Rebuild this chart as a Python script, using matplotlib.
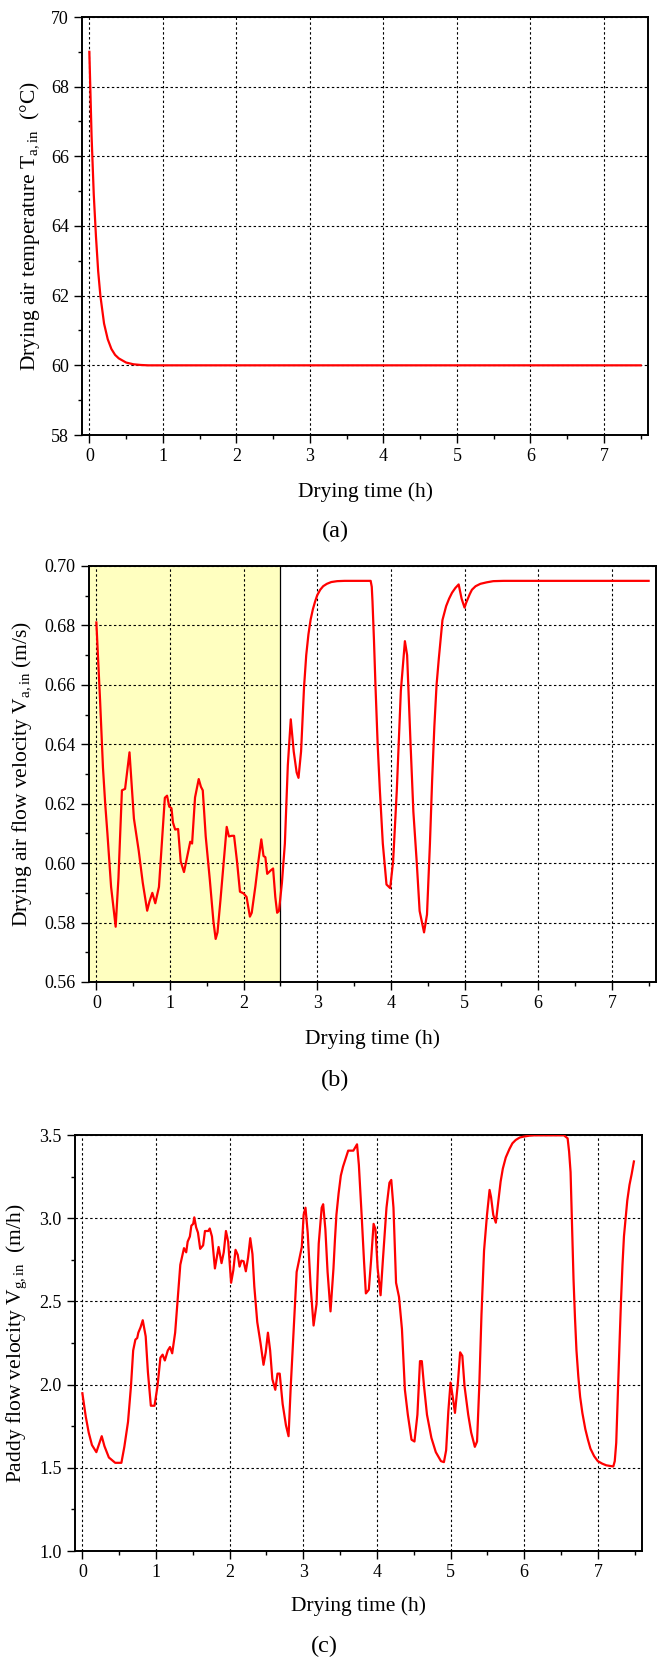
import matplotlib
matplotlib.use("Agg")
import matplotlib.pyplot as plt
from matplotlib.ticker import MultipleLocator, FormatStrFormatter

plt.rcParams["font.family"] = ["Liberation Serif", "DejaVu Serif"]
plt.rcParams["mathtext.fontset"] = "custom"
plt.rcParams["mathtext.rm"] = "Liberation Serif"
plt.rcParams["mathtext.it"] = "Liberation Serif:italic"

# ---- (a) drying air temperature ----
temp_time = [0.0, 0.03, 0.06, 0.09, 0.12, 0.15, 0.2, 0.25, 0.3, 0.35, 0.4,
             0.5, 0.6, 0.7, 0.8, 1.0, 2.0, 3.0, 4.0, 5.0, 6.0, 7.0, 7.5]
temp_vals = [69.0, 66.6, 64.9, 63.7, 62.7, 62.0, 61.2, 60.75, 60.47, 60.3, 60.2,
             60.08, 60.03, 60.01, 60.0, 60.0, 60.0, 60.0, 60.0, 60.0, 60.0, 60.0, 60.0]

# ---- (b) drying air flow velocity ----
air_time = [0.0, 0.05, 0.09, 0.12, 0.15, 0.2, 0.262, 0.3, 0.347, 0.39, 0.45, 0.51,
            0.575, 0.63, 0.69, 0.72, 0.76, 0.80, 0.85, 0.93, 0.96, 0.99, 1.02, 1.04,
            1.07, 1.11, 1.145, 1.19, 1.23, 1.275, 1.30, 1.34, 1.39, 1.42, 1.445,
            1.485, 1.54, 1.59, 1.62, 1.645, 1.685, 1.73, 1.77, 1.80, 1.84, 1.87,
            1.91, 1.95, 2.00, 2.04, 2.085, 2.11, 2.16, 2.20, 2.24, 2.27, 2.295,
            2.32, 2.37, 2.40, 2.43, 2.455, 2.48, 2.52, 2.56, 2.60, 2.64, 2.68,
            2.72, 2.745, 2.78, 2.80, 2.82, 2.85, 2.88, 2.91, 2.94, 2.97, 3.00,
            3.04, 3.08, 3.13, 3.19, 3.27, 3.37, 3.725, 3.74, 3.75, 3.77, 3.79,
            3.82, 3.85, 3.89, 3.94, 3.99, 4.03, 4.08, 4.135, 4.19, 4.22,
            4.265, 4.305, 4.35, 4.39, 4.45, 4.49, 4.53, 4.56, 4.59, 4.62, 4.65,
            4.70, 4.75, 4.79, 4.83, 4.875, 4.92, 4.96, 5.0, 5.02, 5.045, 5.07,
            5.10, 5.15, 5.215, 5.30, 5.39, 5.53, 6.5, 7.5]
air_vals = [0.681, 0.655, 0.632, 0.620, 0.610, 0.592, 0.5786, 0.595, 0.6245,
            0.6250, 0.6373, 0.615, 0.6042, 0.5934, 0.584, 0.587, 0.590, 0.5865,
            0.592, 0.622, 0.6227, 0.619, 0.6185, 0.6137, 0.6113, 0.6115, 0.6006,
            0.597, 0.6018, 0.6072, 0.6066, 0.6221, 0.6283, 0.6257, 0.6245, 0.609,
            0.5946, 0.5803, 0.5745, 0.5767, 0.5875, 0.6006, 0.6122, 0.609, 0.6092,
            0.6092, 0.6006, 0.5904, 0.5898, 0.5886, 0.582, 0.5833, 0.5923, 0.6006,
            0.608, 0.6024, 0.602, 0.5964, 0.5976, 0.5982, 0.5886, 0.5833, 0.5839,
            0.5934, 0.6066, 0.6329, 0.6484, 0.6376, 0.6305, 0.6287, 0.6376, 0.648,
            0.6591, 0.670, 0.677, 0.682, 0.6854, 0.688, 0.6902, 0.692, 0.6932,
            0.694, 0.6946, 0.6949, 0.695, 0.695, 0.693, 0.688, 0.675, 0.660,
            0.640, 0.6245, 0.6066, 0.5928, 0.5916, 0.6006, 0.6245, 0.658, 0.6747,
            0.670, 0.6412, 0.6173, 0.6006, 0.5839, 0.5767, 0.5827, 0.6066, 0.628,
            0.646, 0.660, 0.6687, 0.6818, 0.6865, 0.689, 0.691, 0.6926, 0.6938,
            0.689, 0.686, 0.6875, 0.689, 0.6905, 0.692, 0.6932, 0.694, 0.6945,
            0.6949, 0.695, 0.695, 0.695]

# ---- (c) paddy flow velocity ----
paddy_time = [0.0, 0.046, 0.086, 0.13, 0.19, 0.23, 0.263, 0.30, 0.36, 0.446, 0.53,
              0.57, 0.62, 0.66, 0.69, 0.72, 0.745, 0.76, 0.79, 0.82, 0.86, 0.89,
              0.93, 0.98, 1.02, 1.06, 1.09, 1.12, 1.16, 1.19, 1.22, 1.26, 1.29,
              1.33, 1.38, 1.41, 1.43, 1.46, 1.48, 1.505, 1.52, 1.545, 1.57, 1.60,
              1.64, 1.665, 1.71, 1.73, 1.76, 1.80, 1.85, 1.89, 1.92, 1.95, 1.98,
              2.02, 2.05, 2.08, 2.11, 2.135, 2.16, 2.19, 2.22, 2.25, 2.28, 2.31,
              2.335, 2.375, 2.42, 2.46, 2.49, 2.52, 2.55, 2.58, 2.62, 2.65, 2.68,
              2.72, 2.765, 2.80, 2.83, 2.88, 2.91, 2.95, 2.98, 3.005, 3.03, 3.06,
              3.10, 3.14, 3.18, 3.21, 3.25, 3.27, 3.30, 3.33, 3.37, 3.41, 3.43,
              3.45, 3.48, 3.51, 3.54, 3.57, 3.61, 3.68, 3.73, 3.755, 3.795, 3.825,
              3.85, 3.89, 3.92, 3.955, 3.98, 4.01, 4.05, 4.08, 4.13, 4.17, 4.195,
              4.225, 4.26, 4.30, 4.34, 4.38, 4.42, 4.47, 4.51, 4.55, 4.585, 4.61,
              4.64, 4.68, 4.74, 4.80, 4.87, 4.91, 4.94, 4.97, 5.00, 5.03, 5.06,
              5.10, 5.13, 5.16, 5.19, 5.24, 5.28, 5.33, 5.36, 5.39, 5.42, 5.455,
              5.495, 5.53, 5.55, 5.58, 5.615, 5.655, 5.68, 5.71, 5.75, 5.80, 5.84,
              5.885, 5.94, 6.0, 6.07, 6.14, 6.54, 6.59, 6.61, 6.63, 6.65, 6.67,
              6.69, 6.71, 6.735, 6.76, 6.79, 6.83, 6.865, 6.90, 6.95, 7.0, 7.06,
              7.115, 7.21, 7.23, 7.25, 7.275, 7.295, 7.315, 7.335, 7.355, 7.38,
              7.40, 7.43, 7.46, 7.49]
paddy_vals = [1.948, 1.808, 1.712, 1.637, 1.594, 1.647, 1.690, 1.630, 1.562, 1.530,
              1.530, 1.626, 1.776, 1.990, 2.205, 2.270, 2.280, 2.312, 2.344, 2.387,
              2.290, 2.076, 1.873, 1.873, 1.990, 2.162, 2.180, 2.145, 2.205, 2.226,
              2.188, 2.312, 2.484, 2.720, 2.820, 2.795, 2.859, 2.890, 2.955, 2.966,
              3.005, 2.945, 2.913, 2.816, 2.837, 2.923, 2.923, 2.938, 2.890, 2.698,
              2.827, 2.730, 2.795, 2.923, 2.859, 2.612, 2.687, 2.810, 2.780, 2.709,
              2.745, 2.741, 2.681, 2.762, 2.880, 2.784, 2.590, 2.376, 2.248, 2.119,
              2.194, 2.312, 2.205, 2.033, 1.969, 2.066, 2.066, 1.883, 1.755, 1.690,
              1.990, 2.420, 2.677, 2.762, 2.827, 3.020, 3.063, 2.913, 2.590, 2.355,
              2.484, 2.848, 3.063, 3.084, 2.934, 2.677, 2.440, 2.698, 2.870, 3.020,
              3.150, 3.256, 3.310, 3.352, 3.406, 3.406, 3.444, 3.320, 2.998, 2.741,
              2.548, 2.570, 2.741, 2.966, 2.934, 2.698, 2.537, 2.741, 3.063, 3.213,
              3.230, 3.063, 2.612, 2.527, 2.334, 1.969, 1.819, 1.669, 1.658, 1.819,
              2.141, 2.141, 1.990, 1.819, 1.680, 1.594, 1.540, 1.534, 1.605, 1.840,
              2.012, 1.926, 1.830, 2.012, 2.194, 2.173, 1.990, 1.819, 1.712, 1.626,
              1.658, 1.990, 2.420, 2.805, 3.020, 3.170, 3.127, 3.020, 2.973, 3.127,
              3.220, 3.298, 3.365, 3.416, 3.450, 3.470, 3.485, 3.491, 3.496, 3.498,
              3.498, 3.480, 3.400, 3.277, 2.950, 2.634, 2.400, 2.205, 2.050, 1.926,
              1.830, 1.733, 1.670, 1.615, 1.570, 1.540, 1.525, 1.515, 1.508, 1.540,
              1.650, 1.990, 2.250, 2.505, 2.720, 2.891, 3.010, 3.106, 3.200, 3.266,
              3.341]

W, H = 660, 1660
fig = plt.figure(figsize=(W / 100, H / 100), dpi=100)


def frame(box):
    left, top, right, bottom = box
    return [left / W, 1 - bottom / H, (right - left) / W, (bottom - top) / H]


def style(ax, ylim, ymajor, yminor, yfmt):
    ax.set_xlim(-0.1, 7.6)
    ax.set_ylim(*ylim)
    ax.xaxis.set_major_locator(MultipleLocator(1))
    ax.xaxis.set_minor_locator(MultipleLocator(0.5))
    ax.yaxis.set_major_locator(MultipleLocator(ymajor))
    ax.yaxis.set_minor_locator(MultipleLocator(yminor))
    ax.yaxis.set_major_formatter(FormatStrFormatter(yfmt))
    ax.tick_params(which="both", direction="out", top=False, right=False,
                   width=1.0, labelsize=13)
    ax.tick_params(which="major", length=5.5, pad=4)
    ax.tick_params(which="minor", length=3.2)
    for s in ax.spines.values():
        s.set_linewidth(1.4)
    ax.grid(True, which="major", color="black", linestyle=(0, (2.2, 2.2)),
            linewidth=0.8)


def labels(ax, xl, yl, ylx, xly):
    ax.set_xlabel(xl, fontsize=15.5)
    ax.xaxis.set_label_coords(0.5, xly)
    ax.xaxis.label.set_va("center")
    ax.set_ylabel(yl, fontsize=15.5)
    ax.yaxis.set_label_coords(ylx, 0.5)
    ax.yaxis.label.set_va("center")


line_kw = dict(color="#ff0000", linewidth=1.6, zorder=3,
               solid_joinstyle="round")

# panel (a)
ax1 = fig.add_axes(frame((82, 17, 648, 435)))
ax1.plot(temp_time, temp_vals, **line_kw)
style(ax1, (58, 70), 2, 1, "%d")
labels(ax1, "Drying time (h)", r"Drying air temperature T$_{\mathrm{a,in}}$  (°C)",
       (30 - 82) / 566, (435 - 492) / 418)
fig.text(335 / W, 1 - 531 / H, "(a)", ha="center", va="center", fontsize=17.5)

# panel (b)
ax2 = fig.add_axes(frame((89, 566, 656, 982)))
ax2.axvspan(-0.1, 2.5, facecolor="#ffffc0", edgecolor="none", zorder=0.8)
ax2.axvline(2.5, color="black", linewidth=0.9, zorder=0.9)
ax2.plot(air_time, air_vals, **line_kw)
style(ax2, (0.56, 0.70), 0.02, 0.01, "%.2f")
labels(ax2, "Drying time (h)", r"Drying air flow velocity V$_{\mathrm{a,in}}$ (m/s)",
       (22 - 89) / 567, (982 - 1039) / 416)
fig.text(335 / W, 1 - 1080 / H, "(b)", ha="center", va="center", fontsize=17.5)

# panel (c)
ax3 = fig.add_axes(frame((75, 1135, 642, 1551)))
ax3.plot(paddy_time, paddy_vals, **line_kw)
style(ax3, (1.0, 3.5), 0.5, 0.25, "%.1f")
labels(ax3, "Drying time (h)", r"Paddy flow velocity V$_{\mathrm{g,in}}$  (m/h)",
       (17 - 75) / 567, (1551 - 1606) / 416)
fig.text(324 / W, 1 - 1646 / H, "(c)", ha="center", va="center", fontsize=17.5)

fig.savefig("out.png", dpi=100, facecolor="white")
